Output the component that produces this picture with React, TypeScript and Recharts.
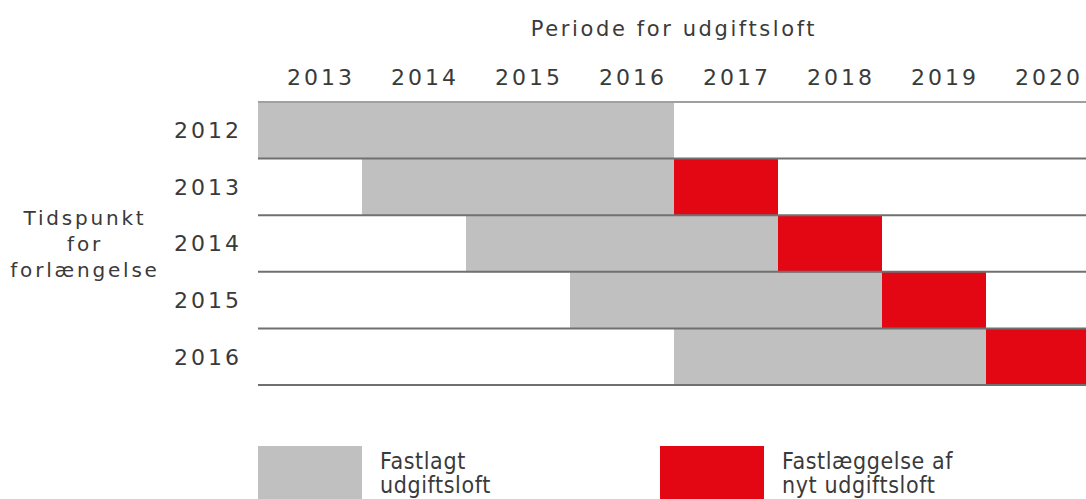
import { BarChart, Bar, XAxis, YAxis, ReferenceLine } from 'recharts'

const releaseYears = ['2012', '2013', '2014', '2015', '2016']
const periodYears = ['2013', '2014', '2015', '2016', '2017', '2018', '2019', '2020']
const startOffset = [0, 1, 2, 3, 4]
const fixedCeiling = [4, 3, 3, 3, 3]
const newCeiling = [0, 1, 1, 1, 1]

const seriesNames = ['Fastlagt\nudgiftsloft', 'Fastlæggelse af\nnyt udgiftsloft']
const GRAY = '#c0c0c0'
const RED = '#e30613'
const TEXT = '#3a3a3a'
const FONT = '"DejaVu Sans", sans-serif'

const rows = releaseYears.map((year, i) => ({
  year,
  offset: startOffset[i],
  fixed: fixedCeiling[i],
  fresh: newCeiling[i],
}))

const tickValues = periodYears.map((_, i) => i + 0.5)

function YTitle(props: any) {
  const vb = props.viewBox || {}
  const cy = vb.y + vb.height / 2
  const lines = ['Tidspunkt', 'for', 'forlængelse']
  return (
    <text
      x={85}
      y={cy - 26}
      textAnchor="middle"
      fill={TEXT}
      fontFamily={FONT}
      fontSize={20}
      letterSpacing={2.8}
    >
      {lines.map((l, i) => (
        <tspan key={l} x={85} dy={i === 0 ? 7 : 26}>
          {l}
        </tspan>
      ))}
    </text>
  )
}

function XTitle(props: any) {
  const vb = props.viewBox || {}
  return (
    <text
      x={vb.x + vb.width / 2}
      y={36}
      textAnchor="middle"
      fill={TEXT}
      fontFamily={FONT}
      fontSize={21}
      letterSpacing={2.6}
    >
      Periode for udgiftsloft
    </text>
  )
}

function LegendItem({ color, label, left }: { color: string; label: string; left: number }) {
  return (
    <div style={{ position: 'absolute', left, top: 446, display: 'flex' }}>
      <div style={{ width: 104, height: 60, background: color }} />
      <div
        style={{
          marginLeft: 18,
          marginTop: 3,
          fontFamily: '"DejaVu Sans Condensed", "DejaVu Sans", sans-serif',
          fontSize: 23,
          lineHeight: '24px',
          color: TEXT,
          whiteSpace: 'pre',
          letterSpacing: 0.6,
        }}
      >
        {label}
      </div>
    </div>
  )
}

export default function App() {
  return (
    <div
      style={{
        position: 'absolute',
        left: 0,
        top: 0,
        width: 1086,
        height: 499,
        overflow: 'hidden',
        background: '#fff',
      }}
    >
      <BarChart
        width={1100}
        height={499}
        data={rows}
        layout="vertical"
        barCategoryGap={0}
        margin={{ top: 0, right: 10, bottom: 114, left: 0 }}
      >
        <XAxis
          type="number"
          orientation="top"
          domain={[0, periodYears.length]}
          ticks={tickValues}
          tickFormatter={(v: number) => periodYears[Math.floor(v)]}
          axisLine={false}
          tickLine={false}
          tickSize={0}
          tickMargin={17}
          height={102}
          interval={0}
          tick={{ fill: TEXT, fontFamily: FONT, fontSize: 22, letterSpacing: 3, dx: 11 }}
          label={<XTitle />}
        />
        <YAxis
          type="category"
          dataKey="year"
          width={258}
          axisLine={false}
          tickLine={false}
          tickSize={0}
          tickMargin={16}
          tick={{ fill: TEXT, fontFamily: FONT, fontSize: 22, letterSpacing: 3 }}
          label={<YTitle />}
        />
        <Bar dataKey="offset" stackId="a" fill="transparent" isAnimationActive={false} />
        <Bar dataKey="fixed" name={seriesNames[0]} stackId="a" fill={GRAY} isAnimationActive={false} />
        <Bar dataKey="fresh" name={seriesNames[1]} stackId="a" fill={RED} isAnimationActive={false} />
        <ReferenceLine y={releaseYears[0]} position="start" stroke="#a0a0a0" strokeWidth={2} />
        {releaseYears.map((y) => (
          <ReferenceLine key={y} y={y} position="end" stroke="#707070" strokeWidth={2} />
        ))}
      </BarChart>
      <LegendItem color={GRAY} label={seriesNames[0]} left={258} />
      <LegendItem color={RED} label={seriesNames[1]} left={660} />
    </div>
  )
}
